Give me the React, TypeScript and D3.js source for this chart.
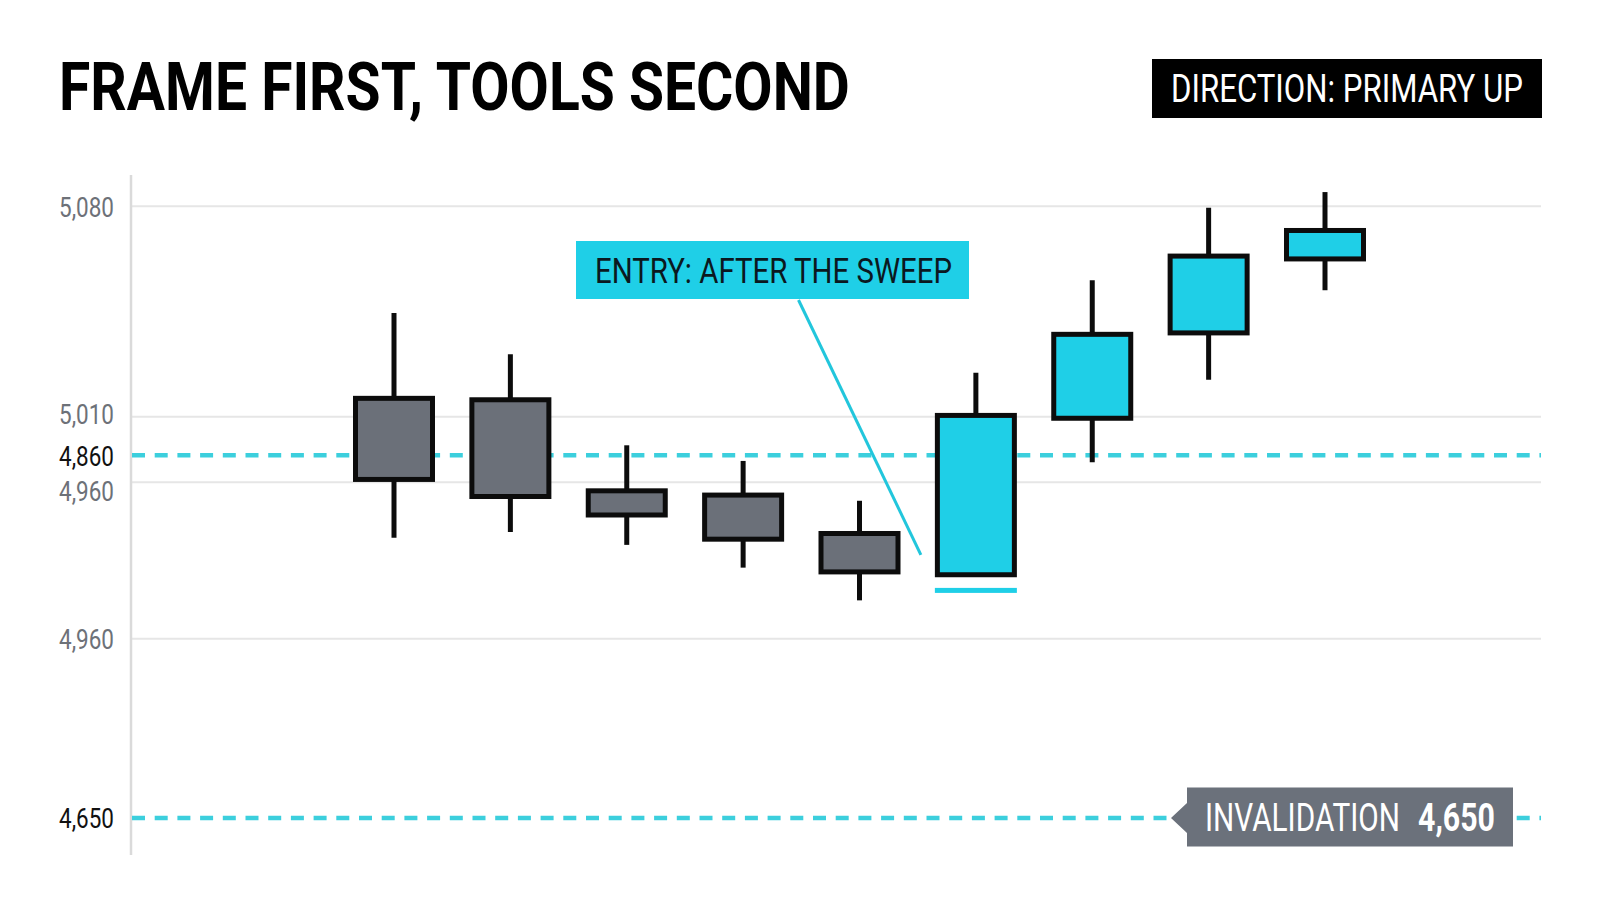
import React, { useLayoutEffect, useRef, useState } from "react";
import * as d3 from "d3";

// ---------- data ----------
const candleIds = ["c1", "c2", "c3", "c4", "c5", "c6", "c7", "c8", "c9"];
const opens = [4945, 4944, 4880, 4877, 4850, 4821, 4931, 4991, 5043];
const highs = [5005, 4976, 4912, 4901, 4873, 4963, 5028, 5079, 5090];
const lows = [4847, 4851, 4842, 4826, 4803, 4821, 4900, 4958, 5021];
const closes = [4888, 4876, 4863, 4846, 4823, 4933, 4990, 5045, 5063];

// gridline levels as drawn (price scale), and the labels printed beside them
const tickLevels = [5080, 4932, 4905, 4886, 4776, 4650];
const tickLabels = ["5,080", "5,010", "4,860", "4,960", "4,960", "4,650"];
const keyLevels = [4905, 4650]; // dashed cyan levels

const sweepLevel = 4810; // underline below the sweep candle
const sweepIndex = 5;
const entryAnchorLevel = 4835;
const invalidationLevel = 4650;

const titleText = "FRAME FIRST, TOOLS SECOND";
const directionText = "DIRECTION: PRIMARY UP";
const entryText = "ENTRY: AFTER THE SWEEP";
const invalidationText = "INVALIDATION";
const invalidationValue = "4,650";

// ---------- layout / style ----------
const W = 1600;
const H = 914;
const AXIS_X = 131;
const PLOT_RIGHT = 1541;
const CYAN = "#1fcfe7";
const CYAN_LINE = "#3ccfdd";
const GRAY_FILL = "#6b7079";
const INK = "#0c0c0c";
const labelNudge = [1, -3, 1, 9, 0, 0];
const FONT = "Roboto, 'Noto Sans', sans-serif";

// text squeezed horizontally to a target width (condensed look)
function FitText(props: {
  x: number;
  y: number;
  width: number;
  size: number;
  weight?: number;
  fill: string;
  children: string;
}) {
  const ref = useRef<SVGTextElement>(null);
  const [s, setS] = useState(0.75);
  useLayoutEffect(() => {
    if (ref.current) {
      const w = ref.current.getComputedTextLength();
      if (w > 0) setS(props.width / w);
    }
  }, [props.width, props.children, props.size]);
  return (
    <text
      ref={ref}
      transform={`translate(${props.x},${props.y}) scale(${s},1)`}
      fontSize={props.size}
      fontWeight={props.weight ?? 400}
      fill={props.fill}
    >
      {props.children}
    </text>
  );
}

export default function App() {
  const y = d3.scaleLinear().domain([4624, 5102]).range([855, 175]);
  const x = d3
    .scalePoint<number>()
    .domain(d3.range(candleIds.length))
    .range([394, 1325]);
  const bodyW = 77;
  const stroke = 5;

  const candles = candleIds.map((id, i) => ({
    id,
    o: opens[i],
    h: highs[i],
    l: lows[i],
    c: closes[i],
    i,
  }));

  // entry callout
  const entryBox = { x: 576, y: 241, w: 393, h: 58 };
  const leaderTop: [number, number] = [entryBox.x + 222.5, entryBox.y + entryBox.h + 1];
  const leaderBottom: [number, number] = [
    (x(sweepIndex) as number) - bodyW / 2 - stroke / 2 - 14,
    y(entryAnchorLevel),
  ];

  // invalidation tag
  const invY = y(invalidationLevel);
  const tag = { x: 1187, w: 326, top: invY - 30.5, bottom: invY + 28.5, tip: 16 };
  const tagPath = d3.path();
  tagPath.moveTo(tag.x, tag.top);
  tagPath.lineTo(tag.x + tag.w, tag.top);
  tagPath.lineTo(tag.x + tag.w, tag.bottom);
  tagPath.lineTo(tag.x, tag.bottom);
  tagPath.lineTo(tag.x, invY + 15);
  tagPath.lineTo(tag.x - tag.tip, invY);
  tagPath.lineTo(tag.x, invY - 15);
  tagPath.closePath();

  const sx = x(sweepIndex) as number;

  return (
    <svg
      width={W}
      height={H}
      viewBox={`0 0 ${W} ${H}`}
      style={{ position: "absolute", left: 0, top: 0, background: "#fff" }}
      fontFamily={FONT}
    >
      <rect width={W} height={H} fill="#ffffff" />

      {/* title */}
      <FitText x={59} y={110} width={791} size={66} weight={700} fill="#000">
        {titleText}
      </FitText>

      {/* direction badge */}
      <rect x={1152} y={59} width={390} height={59} fill="#000" />
      <FitText x={1171} y={102} width={352} size={39} fill="#fff">
        {directionText}
      </FitText>

      {/* gridlines */}
      {tickLevels.map((lv, i) =>
        keyLevels.includes(lv) ? null : (
          <line
            key={"g" + i}
            x1={AXIS_X}
            x2={PLOT_RIGHT}
            y1={y(lv)}
            y2={y(lv)}
            stroke="#e6e6e6"
            strokeWidth={2}
          />
        )
      )}

      {/* axis line */}
      <line x1={AXIS_X} x2={AXIS_X} y1={y.range()[1]} y2={y.range()[0]} stroke="#dadada" strokeWidth={2.5} />

      {/* tick labels */}
      {tickLevels.map((lv, i) => {
        const key = keyLevels.includes(lv);
        return (
          <FitText
            key={"t" + i}
            x={59}
            y={y(lv) + 9.8 + labelNudge[i]}
            width={55}
            size={27.5}
            fill={key ? "#111" : "#6d7178"}
          >
            {tickLabels[i]}
          </FitText>
        );
      })}

      {/* key dashed levels */}
      {keyLevels.map((lv, i) => (
        <line
          key={"k" + i}
          x1={AXIS_X + 1}
          x2={PLOT_RIGHT}
          y1={y(lv)}
          y2={y(lv)}
          stroke={CYAN_LINE}
          strokeWidth={4.5}
          strokeDasharray="13 9.7"
        />
      ))}

      {/* candles */}
      {candles.map((d) => {
        const cx = x(d.i) as number;
        const up = d.c > d.o;
        const top = y(Math.max(d.o, d.c));
        const bot = y(Math.min(d.o, d.c));
        return (
          <g key={d.id}>
            <line x1={cx} x2={cx} y1={y(d.h)} y2={y(d.l)} stroke={INK} strokeWidth={5} />
            <rect
              x={cx - bodyW / 2}
              y={top}
              width={bodyW}
              height={bot - top}
              fill={up ? CYAN : GRAY_FILL}
              stroke={INK}
              strokeWidth={stroke}
            />
          </g>
        );
      })}

      {/* sweep underline */}
      <rect
        x={sx - bodyW / 2 - stroke / 2}
        y={y(sweepLevel) - 2.5}
        width={bodyW + stroke}
        height={5}
        fill={CYAN}
      />

      {/* entry callout */}
      <line
        x1={leaderTop[0]}
        y1={leaderTop[1]}
        x2={leaderBottom[0]}
        y2={leaderBottom[1]}
        stroke="#22c6dc"
        strokeWidth={3}
      />
      <rect x={entryBox.x} y={entryBox.y} width={entryBox.w} height={entryBox.h} fill={CYAN} />
      <FitText x={595} y={283} width={357} size={35} fill="#0b1820">
        {entryText}
      </FitText>

      {/* invalidation tag */}
      <path d={tagPath.toString()} fill="#6b717b" />
      <FitText x={1205} y={831} width={195} size={39} fill="#fff">
        {invalidationText}
      </FitText>
      <FitText x={1418} y={831} width={77} size={39} weight={700} fill="#fff">
        {invalidationValue}
      </FitText>
    </svg>
  );
}
